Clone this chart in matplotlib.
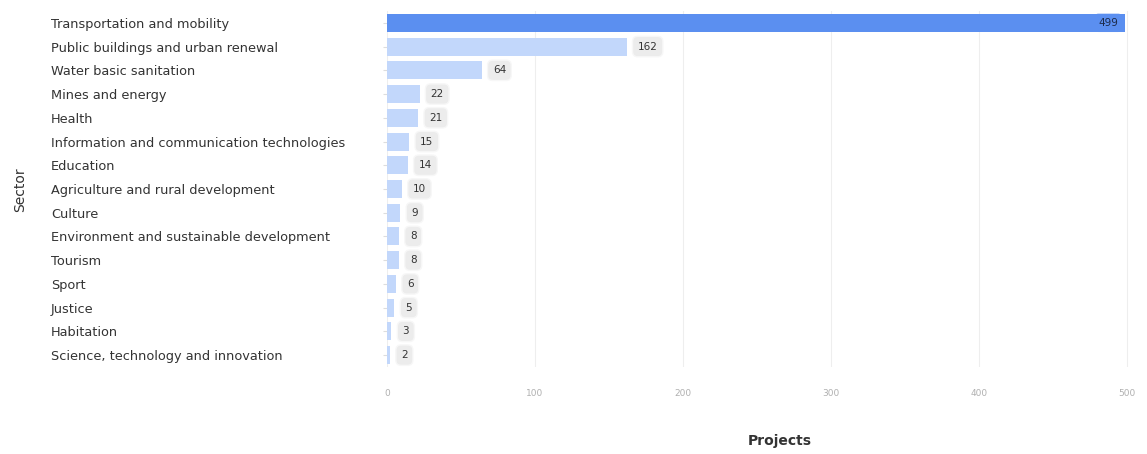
import matplotlib.pyplot as plt
from matplotlib.transforms import offset_copy

sectors = [
    "Transportation and mobility",
    "Public buildings and urban renewal",
    "Water basic sanitation",
    "Mines and energy",
    "Health",
    "Information and communication technologies",
    "Education",
    "Agriculture and rural development",
    "Culture",
    "Environment and sustainable development",
    "Tourism",
    "Sport",
    "Justice",
    "Habitation",
    "Science, technology and innovation",
]
projects = [499, 162, 64, 22, 21, 15, 14, 10, 9, 8, 8, 6, 5, 3, 2]
x_ticks = [0, 100, 200, 300, 400, 500]

plt.rcParams['font.family'] = ['DejaVu Sans']

fig = plt.figure(figsize=(11.47, 4.54), dpi=100)
ax = fig.add_axes([0.3374, 0.1916, 0.6513, 0.7842])

y_pos = list(range(len(sectors)))
top = max(projects)
colors = ['#5b8ff0' if v == top else '#c2d7fb' for v in projects]
ax.barh(y_pos, projects, height=0.76, color=colors)

ax.set_ylim(len(sectors) - 0.5, -0.5)
ax.set_xlim(0, 505)
ax.set_xticks(x_ticks)
ax.set_xticklabels([str(t) for t in x_ticks], fontsize=6.5, color='#b0b0b0')
ax.set_yticks(y_pos)
ax.set_yticklabels(sectors, fontsize=9.3, color='#333333')
for lbl in ax.get_yticklabels():
    lbl.set_ha('left')
ax.tick_params(axis='y', length=3, color='#dddddd', pad=239)
ax.tick_params(axis='x', length=0, pad=16)

ax.grid(axis='x', color='#eeeeee', linewidth=0.8)
ax.set_axisbelow(True)
for s in ax.spines.values():
    s.set_visible(False)

# value badges
for y, v in zip(y_pos, projects):
    if v == top:
        tr = offset_copy(ax.transData, fig=fig, x=-5, y=0, units='points')
        ax.text(v, y, str(v), transform=tr, ha='right', va='center', fontsize=7.5,
                color='#1d2b4a',
                bbox=dict(boxstyle='round,pad=0.4', fc='#5b8ff0', ec='none'))
    else:
        tr = offset_copy(ax.transData, fig=fig, x=8, y=0, units='points')
        ax.text(v, y, str(v), transform=tr, ha='left', va='center', fontsize=7.5,
                color='#333333',
                bbox=dict(boxstyle='round,pad=0.5', fc='#ececec', ec='#f7f7f7',
                          linewidth=1))

fig.text(20 / 1147, 1 - 190 / 454, "Sector", rotation=90, ha='center', va='center',
         fontsize=10, color='#333333')
fig.text(780 / 1147, 1 - 441 / 454, "Projects", ha='center', va='center',
         fontsize=10, fontweight='bold', color='#333333')

fig.savefig('out.png', dpi=100)
